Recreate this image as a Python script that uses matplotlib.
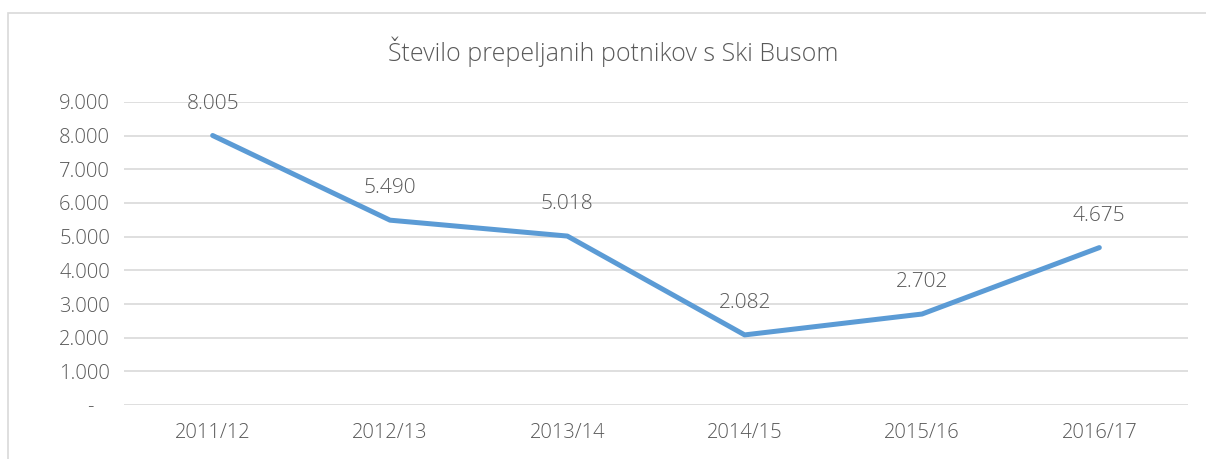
import matplotlib.pyplot as plt
from matplotlib.patches import Rectangle
from matplotlib.ticker import FuncFormatter

# Podatki
sezone = ["2011/12", "2012/13", "2013/14", "2014/15", "2015/16", "2016/17"]
potniki = [8005, 5490, 5018, 2082, 2702, 4675]
naslov = "Število prepeljanih potnikov s Ski Busom"

plt.rcParams['font.family'] = ['Open Sans', 'DejaVu Sans']
plt.rcParams['font.weight'] = 'light'
siva = "#595959"


def fmt_tisoc(v, pos=None):
    if v == 0:
        return "-   "
    return f"{int(v):,}".replace(",", ".")


fig = plt.figure(figsize=(12.06, 4.59), dpi=100)
ax = fig.add_axes([124 / 1206, 1 - 405 / 459, (1188 - 124) / 1206, (405 - 102) / 459])

x = list(range(len(sezone)))
ax.plot(x, potniki, color="#5B9BD5", linewidth=3.6, solid_capstyle="round", zorder=3)

for xi, v in zip(x, potniki):
    ax.annotate(fmt_tisoc(v), (xi, v), xytext=(0, 23), textcoords="offset points",
                ha="center", va="center", fontsize=15, color=siva)

ax.set_xlim(-0.5, len(sezone) - 0.5)
ax.set_ylim(0, 9000)
ax.set_yticks(range(0, 9001, 1000))
ax.yaxis.set_major_formatter(FuncFormatter(fmt_tisoc))
ax.set_xticks(x)
ax.set_xticklabels(sezone)
ax.grid(axis="y", color="#D9D9D9", linewidth=1.2)
ax.set_axisbelow(True)
for s in ax.spines.values():
    s.set_visible(False)
ax.tick_params(length=0, labelsize=14.5, colors=siva, pad=10)
ax.tick_params(axis="x", pad=13)

fig.text(613 / 1206, 1 - 52 / 459, naslov, ha="center", va="center", fontsize=18, color=siva)

# okvir grafikona
fig.patches.append(Rectangle((8 / 1206, -0.1), 1.2, 1 - 13 / 459 + 0.1, transform=fig.transFigure,
                             fill=False, edgecolor="#D9D9D9", linewidth=1.2))

fig.savefig("out.png", dpi=100)
